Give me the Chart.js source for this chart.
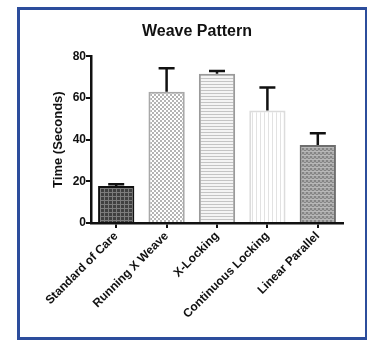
<!DOCTYPE html>
<html>
<head>
<meta charset="utf-8">
<script src="https://cdn.jsdelivr.net/npm/chart.js@4/dist/chart.umd.min.js"></script>
<style>
  html, body { margin: 0; padding: 0; background: #fff; }
  #wrap { position: relative; width: 367px; height: 341px; }
  #frame {
    position: absolute; left: 17px; top: 7px; width: 345px; height: 327px;
    border: 3px solid #2c4d9c; pointer-events: none;
  }
  canvas { position: absolute; left: 0; top: 0; }
</style>
</head>
<body>
<div id="wrap">
  <canvas id="weaveChart" width="367" height="341"></canvas>
  <div id="frame"></div>
</div>
<script>
const categories = ['Standard of Care', 'Running X Weave', 'X-Locking', 'Continuous Locking', 'Linear Parallel'];
const meanTimes = [17.8, 63.0, 71.6, 54.0, 37.4];
const errorUp = [0.8, 11.2, 1.3, 11.0, 5.6];
const yTicks = [0, 20, 40, 60, 80];

const FONT = '"Liberation Sans", Arial, sans-serif';

// small tiles used as bar fills
function makePattern(size, draw) {
    const c = document.createElement('canvas');
    c.width = size; c.height = size;
    const g = c.getContext('2d');
    draw(g);
    return c.getContext('2d').createPattern(c, 'repeat');
}

const fills = [
    makePattern(4, g => {
        g.fillStyle = '#404040'; g.fillRect(0, 0, 4, 4);
        g.fillStyle = '#7c7c7c'; g.fillRect(0, 0, 1, 4); g.fillRect(0, 0, 4, 1);
    }),
    makePattern(4, g => {
        g.fillStyle = '#ffffff'; g.fillRect(0, 0, 4, 4);
        g.fillStyle = '#b4b4b4'; g.fillRect(0, 0, 2, 2); g.fillRect(2, 2, 2, 2);
    }),
    makePattern(3, g => {
        g.fillStyle = '#f4f4f4'; g.fillRect(0, 0, 3, 3);
        g.fillStyle = '#c4c4c4'; g.fillRect(0, 0, 3, 1);
    }),
    makePattern(4, g => {
        g.fillStyle = '#ffffff'; g.fillRect(0, 0, 4, 4);
        g.fillStyle = '#e2e2e2'; g.fillRect(0, 0, 1, 4);
    }),
    makePattern(4, g => {
        g.fillStyle = '#858585'; g.fillRect(0, 0, 4, 4);
        g.fillStyle = '#a8a8a8'; g.fillRect(0, 0, 2, 2); g.fillRect(2, 2, 2, 2);
        g.fillStyle = '#b8b8b8'; g.fillRect(0, 3, 4, 1);
    })
];
const borders = ['#111111', '#a8a8a8', '#9a9a9a', '#dcdcdc', '#6e6e6e'];

const errorBars = {
    id: 'errorBars',
    afterDatasetsDraw(chart) {
        const ctx = chart.ctx;
        const yScale = chart.scales.y;
        const meta = chart.getDatasetMeta(0);
        ctx.save();
        ctx.strokeStyle = '#111';
        ctx.lineWidth = 2.5;
        meta.data.forEach((bar, i) => {
            const yTop = yScale.getPixelForValue(meanTimes[i] + errorUp[i]);
            ctx.beginPath();
            ctx.moveTo(bar.x, bar.y);
            ctx.lineTo(bar.x, yTop);
            ctx.moveTo(bar.x - 8, yTop);
            ctx.lineTo(bar.x + 8, yTop);
            ctx.stroke();
        });
        ctx.restore();
    }
};

new Chart(document.getElementById('weaveChart'), {
    type: 'bar',
    data: {
        labels: categories,
        datasets: [{
            data: meanTimes,
            backgroundColor: fills,
            borderColor: borders,
            borderWidth: 2,
            barPercentage: 0.72,
            categoryPercentage: 1
        }]
    },
    options: {
        responsive: false,
        animation: false,
        layout: { padding: { left: 51, right: 24, top: 0, bottom: 0 } },
        plugins: {
            legend: { display: false },
            tooltip: { enabled: false },
            title: {
                display: true,
                text: 'Weave Pattern',
                color: '#111',
                font: { family: FONT, size: 16, weight: 'bold' },
                padding: { top: 22, bottom: 15 }
            }
        },
        scales: {
            x: {
                grid: {
                    display: true, drawOnChartArea: false, drawTicks: true,
                    tickLength: 5, color: '#111', lineWidth: 2, offset: false
                },
                border: { display: true, color: '#111', width: 2.5 },
                ticks: {
                    color: '#111', minRotation: 45, maxRotation: 45, autoSkip: false,
                    padding: 1,
                    font: { family: FONT, size: 12, weight: 'bold' }
                },
                afterFit(scale) { scale.height = 118; }
            },
            y: {
                min: 0, max: 80,
                afterBuildTicks(scale) { scale.ticks = yTicks.map(v => ({ value: v })); },
                grid: {
                    display: true, drawOnChartArea: false, drawTicks: true,
                    tickLength: 5, color: '#111', lineWidth: 2
                },
                border: { display: true, color: '#111', width: 2.5 },
                ticks: {
                    color: '#111', padding: 0,
                    font: { family: FONT, size: 12, weight: 'bold' }
                },
                title: {
                    display: true,
                    text: 'Time (Seconds)',
                    color: '#111',
                    padding: { top: 0, bottom: 0 },
                    font: { family: FONT, size: 13, weight: 'bold' }
                },
                afterFit(scale) { scale.width = 40; }
            }
        }
    },
    plugins: [errorBars]
});
</script>
</body>
</html>
